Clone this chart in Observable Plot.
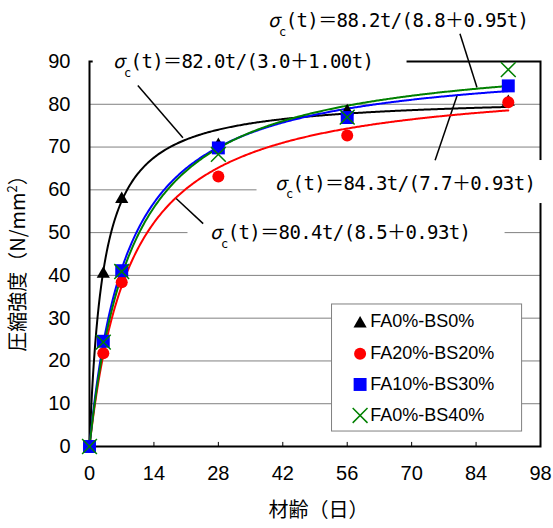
<!DOCTYPE html>
<html><head><meta charset="utf-8">
<script src="https://cdn.jsdelivr.net/npm/d3@7"></script>
<script src="https://cdn.jsdelivr.net/npm/@observablehq/plot@0.6"></script>
<style>html,body{margin:0;padding:0;background:#fff;}#chart{width:553px;height:528px;}</style>
</head><body><div id="chart"></div>
<script>
// ---- data ----
const ages = [0, 3, 7, 28, 56, 91];
const seriesNames = ["FA0%-BS0%", "FA20%-BS20%", "FA10%-BS30%", "FA0%-BS40%"];
const strengthFA0BS0 = [0, 40.8, 58.3, 70.9, 78.8, 81.0];
const strengthFA20BS20 = [0, 21.8, 38.4, 63.1, 72.7, 80.5];
const strengthFA10BS30 = [0, 24.6, 41.1, 69.8, 76.9, 84.3];
const strengthFA0BS40 = [0, 24.4, 40.9, 68.3, 77.0, 88.1];
// fitted curves sigma_c(t) = a t / (b + c t), as printed in the chart
const coefA = [82.0, 80.4, 84.3, 88.2];
const coefB = [3.0, 8.5, 7.7, 8.8];
const coefC = [1.00, 0.93, 0.93, 0.95];
const curveEnd = 91;
const seriesColors = ["#000000", "#ff0000", "#0000ff", "#008000"];
const seriesSymbols = ["triangle", "circle", "square", "times"];
const xTicks = [0, 14, 28, 42, 56, 70, 84, 98];
const yTicks = [0, 10, 20, 30, 40, 50, 60, 70, 80, 90];
const gridValues = [10, 20, 30, 40, 50, 60, 70, 80];
const xLabel = "材齢（日）";
const yLabel = "圧縮強度（N/mm2）";
// equation annotations (curve order: black, red, blue, green)
const eqText = ["σc(t)＝82.0t/(3.0＋1.00t)", "σc(t)＝80.4t/(8.5＋0.93t)", "σc(t)＝84.3t/(7.7＋0.93t)", "σc(t)＝88.2t/(8.8＋0.95t)"];
const eqX = [5.1, 26.2, 40.3, 38.8];
const eqY = [90.0, 50.0, 61.5, 99.5];
const boxX1 = [0.8, 21.4, 36.4];
const boxX2 = [69.0, 90.3, 100.2];
const boxY1 = [84.85, 44.9, 56.8];
const boxY2 = [94.9, 54.9, 66.85];
const leadX1 = [10.5, 24.7, 75.1, 80.5];
const leadY1 = [84.4, 52.1, 66.9, 96.5];
const leadX2 = [20.3, 18.6, 79.9, 84.2];
const leadY2 = [72.2, 58.2, 82.1, 83.9];
// legend placement (data units)
const legendBox = {x1: 52.7, x2: 94.0, y1: 3.5, y2: 33.2};
const legendSymX = 58.8, legendTextX = 61.0;
const legendY = [29.2, 21.7, 14.5, 7.25];

// ---- build tables ----
const allSeries = [strengthFA0BS0, strengthFA20BS20, strengthFA10BS30, strengthFA0BS40];
const points = allSeries.map((vals, s) => ages.map((t, i) => ({t, v: vals[i], s})));
const tSamples = d3.range(0, 1, 0.02).concat(d3.range(1, curveEnd + 0.001, 0.25));
const curves = coefA.map((a, s) => tSamples.map(t => ({t, v: a * t / (coefB[s] + coefC[s] * t), s})));
const boxes = boxX1.map((x1, i) => ({x1, x2: boxX2[i], y1: boxY1[i], y2: boxY2[i]}));
const leaders = leadX1.map((x1, i) => ({x1, y1: leadY1[i], x2: leadX2[i], y2: leadY2[i]}));
const eqs = eqText.map((t, i) => ({t, x: eqX[i], y: eqY[i]}));
const legendRows = seriesNames.map((n, i) => ({n, y: legendY[i], i}));

const symR = [4.9, 6, 7.3, 6.8];
const symDy = [2, 0, 0, 0];

const marks = [
  Plot.ruleY(gridValues, {stroke: "#808080", strokeWidth: 1}),
  Plot.ruleX(xTicks.slice(1, -1), {y1: 0, y2: 0.95, stroke: "#000", strokeWidth: 1}),
  Plot.frame({stroke: "#000", strokeWidth: 2}),
  Plot.rect(boxes, {x1: "x1", x2: "x2", y1: "y1", y2: "y2", fill: "white"}),
  Plot.link(leaders, {x1: "x1", y1: "y1", x2: "x2", y2: "y2", stroke: "#000", strokeWidth: 1.5}),
  Plot.rect([legendBox], {x1: "x1", x2: "x2", y1: "y1", y2: "y2", fill: "white", stroke: "#808080", strokeWidth: 1}),
  Plot.axisX({ticks: xTicks, tickSize: 0, tickPadding: 19, label: null, fontSize: 20}),
  Plot.axisY({ticks: yTicks, tickSize: 0, tickPadding: 19, label: null, fontSize: 20}),
];
curves.forEach((c, s) => marks.push(Plot.line(c, {x: "t", y: "v", stroke: seriesColors[s], strokeWidth: 2})));
points.forEach((p, s) => {
  const isX = seriesSymbols[s] === "times";
  marks.push(Plot.dot(p, {x: "t", y: "v", symbol: seriesSymbols[s], r: symR[s], dy: symDy[s],
    fill: isX ? "none" : seriesColors[s], stroke: isX ? seriesColors[s] : "none", strokeWidth: 1.5}));
});
legendRows.forEach(row => {
  const s = row.i, isX = seriesSymbols[s] === "times";
  marks.push(Plot.dot([row], {x: () => legendSymX, y: "y", symbol: seriesSymbols[s], r: symR[s], dy: symDy[s],
    fill: isX ? "none" : seriesColors[s], stroke: isX ? seriesColors[s] : "none", strokeWidth: 1.5}));
});
marks.push(Plot.text(legendRows, {x: () => legendTextX, y: "y", text: "n", textAnchor: "start", fontSize: 18, fontFamily: "Liberation Sans, Arial, sans-serif", fill: "#000"}));
marks.push(Plot.text(eqs, {x: "x", y: "y", text: "t", textAnchor: "start", fontSize: 19, fontFamily: "DejaVu Sans Mono, Noto Sans CJK JP", fill: "#000"}));
marks.push(Plot.text([xLabel], {frameAnchor: "bottom", textAnchor: "middle", dy: 70, dx: 3.5, fontSize: 20, fontFamily: "Noto Sans CJK JP", fill: "#000"}));
marks.push(Plot.text([yLabel], {frameAnchor: "left", textAnchor: "middle", rotate: -90, dx: -70.5, dy: 4.5, fontSize: 20, fontFamily: "Noto Sans CJK JP", fill: "#000"}));

const chart = Plot.plot({
  width: 553, height: 528,
  marginLeft: 89, marginRight: 13, marginTop: 61, marginBottom: 82,
  x: {domain: [0, 98]},
  y: {domain: [0, 90]},
  style: {fontFamily: "Liberation Sans, Arial, sans-serif", fontSize: "20px", background: "white", color: "black"},
  marks
});

// subscript / superscript formatting
const NS = "http://www.w3.org/2000/svg";
function tspan(txt, attrs) {
  const t = document.createElementNS(NS, "tspan");
  t.textContent = txt;
  for (const k in attrs) t.setAttribute(k, attrs[k]);
  return t;
}
chart.querySelectorAll("text").forEach(el => {
  const s = el.textContent;
  if (s.startsWith("σc")) {
    el.textContent = "";
    el.setAttribute("letter-spacing", "-0.6");
    el.appendChild(tspan("σ", {"font-family": "Noto Sans CJK JP", "font-style": "italic"}));
    el.appendChild(tspan("c", {"font-size": 12, dy: 9}));
    el.appendChild(tspan(s.slice(2), {dy: -9}));
  } else if (s === yLabel) {
    el.textContent = "";
    el.appendChild(tspan("圧縮強度（N/mm", {}));
    el.appendChild(tspan("2", {"font-size": 13, dy: -8}));
    el.appendChild(tspan("）", {dy: 8}));
  }
});
document.getElementById("chart").appendChild(chart);
</script></body></html>
